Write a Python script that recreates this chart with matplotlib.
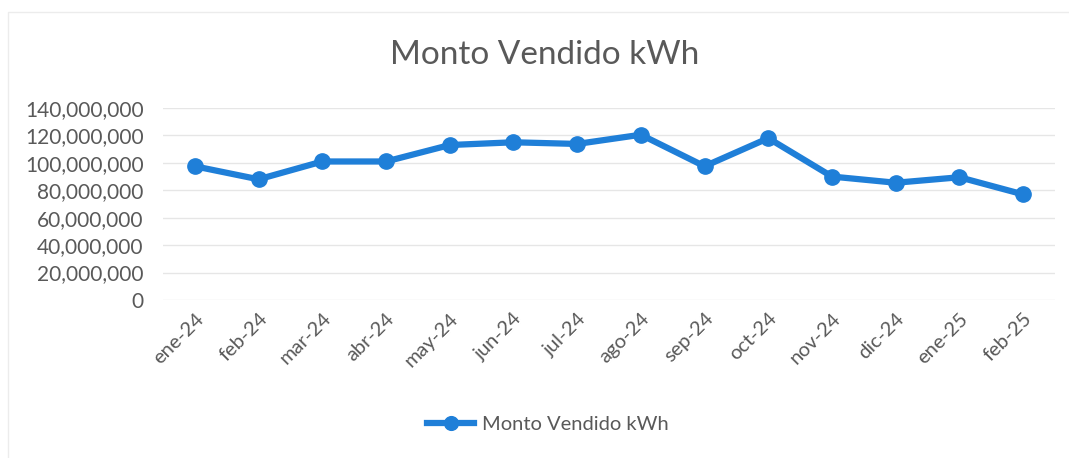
import matplotlib.pyplot as plt
import matplotlib.ticker as mticker
from matplotlib.patches import Rectangle

# data
months = ['ene-24', 'feb-24', 'mar-24', 'abr-24', 'may-24', 'jun-24', 'jul-24',
          'ago-24', 'sep-24', 'oct-24', 'nov-24', 'dic-24', 'ene-25', 'feb-25']
kwh = [97.5e6, 88.0e6, 101.0e6, 101.0e6, 113.0e6, 115.0e6, 113.8e6,
       120.5e6, 97.5e6, 118.0e6, 90.0e6, 85.5e6, 89.5e6, 77.0e6]
series_name = 'Monto Vendido kWh'
y_ticks = [0, 20e6, 40e6, 60e6, 80e6, 100e6, 120e6, 140e6]

plt.rcParams['font.family'] = ['Lato', 'DejaVu Sans']
text_col = '#595959'
line_col = '#1f7fd8'

fig = plt.figure(figsize=(10.69, 4.58), dpi=100)
ax = fig.add_axes([163 / 1069, 1 - 300 / 458, (1055 - 163) / 1069, 192 / 458])

x = list(range(len(months)))
ax.plot(x, kwh, color=line_col, lw=4.5, marker='o', ms=11,
        solid_joinstyle='round', label=series_name)

ax.set_xlim(-0.5, len(months) - 0.5)
ax.set_ylim(0, 140e6)
ax.set_yticks(y_ticks)
ax.yaxis.set_major_formatter(mticker.FuncFormatter(lambda v, p: f'{v:,.0f}'))
ax.set_xticks(x)
ax.set_xticklabels(months, rotation=45, ha='right', rotation_mode='anchor')

ax.grid(axis='y', color='#e6e6e6', lw=1)
ax.set_axisbelow(True)
for s in ax.spines.values():
    s.set_visible(False)
ax.tick_params(axis='y', length=0, pad=14, labelsize=15, labelcolor=text_col)
ax.tick_params(axis='x', length=0, pad=7, labelsize=14.5, labelcolor=text_col)

fig.text(545 / 1069, 1 - 55 / 458, 'Monto Vendido kWh', ha='center', va='center',
         fontsize=24, color=text_col)

leg = ax.legend(loc='center', bbox_to_anchor=(548 / 1069, 1 - 424 / 458),
                bbox_transform=fig.transFigure, frameon=False, fontsize=14.5,
                handlelength=2.3, handletextpad=0.4, labelcolor=text_col,
                markerscale=0.9)

# faint chart frame
fig.patches.append(Rectangle((8 / 1069, -0.1), 1.2, 1 - 12 / 458 + 0.1,
                             transform=fig.transFigure, fill=False,
                             edgecolor='#ececec', lw=1))

fig.savefig('out.png', dpi=100)
